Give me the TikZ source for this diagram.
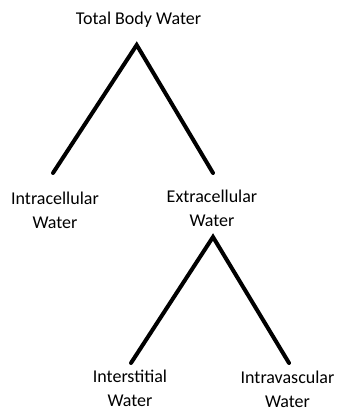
\documentclass[tikz,border=0pt]{standalone}
\usepackage{fontspec}
\setmainfont{Carlito}
\begin{document}
\begin{tikzpicture}[x=1pt,y=-1pt,
  lbl/.style={inner sep=0pt,align=center,anchor=base,font=\fontsize{18}{24}\selectfont},
  branch/.style={line width=4pt,line cap=round,line join=miter}]
\useasboundingbox (0,0) rectangle (338,412);
\node[lbl] (tbw) at (138.5,25) {Total Body Water};
\node[lbl] (icw) at (55,228) {Intracellular\\Water};
\node[lbl] (ecw) at (212,226) {Extracellular\\Water};
\node[lbl] (isw) at (130,406) {Interstitial\\Water};
\node[lbl] (ivw) at (287.5,407) {Intravascular\\Water};
\coordinate (a1) at (136.7,45);
\coordinate (l1) at (53,173);
\coordinate (r1) at (213,173);
\coordinate (a2) at (213,237);
\coordinate (l2) at (131,363);
\coordinate (r2) at (289,363);
\draw[branch] (l1) -- (a1) -- (r1);
\draw[branch] (l2) -- (a2) -- (r2);
\end{tikzpicture}
\end{document}
